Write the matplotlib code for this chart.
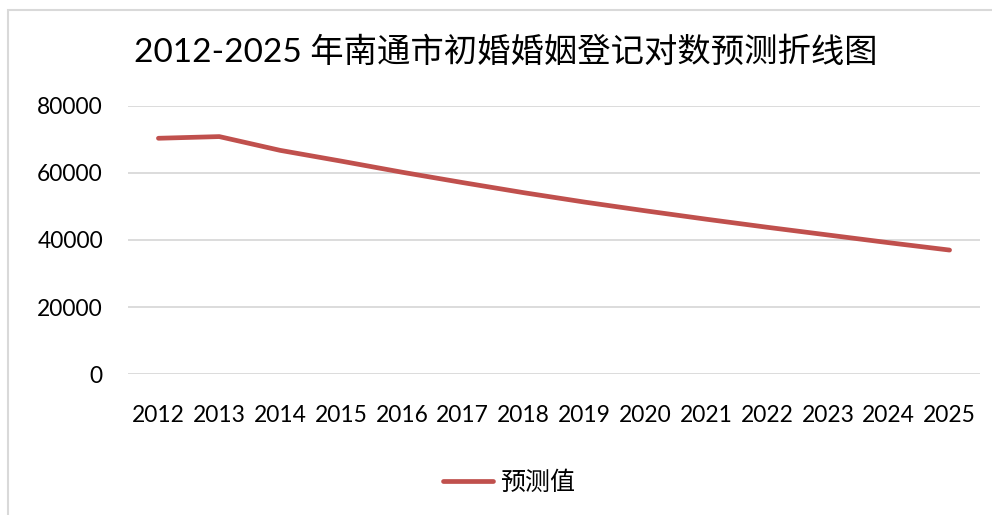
import matplotlib
matplotlib.use("Agg")
import matplotlib.pyplot as plt
from matplotlib.patches import Rectangle
from matplotlib import font_manager

years = ["2012", "2013", "2014", "2015", "2016", "2017", "2018",
         "2019", "2020", "2021", "2022", "2023", "2024", "2025"]
predicted = [70300, 70800, 66700, 63500, 60200, 57100, 54100,
             51300, 48700, 46200, 43800, 41500, 39200, 37000]
series_name = "预测值"
title = "2012-2025 年南通市初婚婚姻登记对数预测折线图"
yticks = [0, 20000, 40000, 60000, 80000]

W, H = 992, 515
fig = plt.figure(figsize=(W / 100, H / 100), dpi=100)
fig.patch.set_facecolor("white")

fonts = ["Lato", "Noto Sans CJK SC", "DejaVu Sans"]
plt.rcParams["font.family"] = fonts

installed = {f.name for f in font_manager.fontManager.ttflist}
if "Liberation Sans Narrow" in installed:
    title_fonts = ["Liberation Sans Narrow", "Noto Sans CJK SC", "DejaVu Sans"]
    title_size = 25
else:
    title_fonts = fonts
    title_size = 24

# chart border
fig.add_artist(Rectangle((8 / W, -0.1), 1.0, 1 - 10 / H + 0.1,
                         transform=fig.transFigure, fill=False,
                         edgecolor="#d9d9d9", linewidth=1.5))

ax = fig.add_axes([128 / W, 1 - 374.3 / H, (980 - 128) / W, (374.3 - 105.7) / H])
x = list(range(len(years)))
line, = ax.plot(x, predicted, color="#C0504D", linewidth=3.4,
                solid_capstyle="round", solid_joinstyle="round", label=series_name)

ax.set_xlim(-0.5, len(years) - 0.5)
ax.set_ylim(0, 80000)
ax.set_yticks(yticks)
ax.set_yticklabels([str(v) for v in yticks])
ax.set_xticks(x)
ax.set_xticklabels(years)
ax.grid(axis="y", color="#d9d9d9", linewidth=1.3)
ax.set_axisbelow(True)
for s in ax.spines.values():
    s.set_visible(False)
ax.tick_params(axis="both", length=0, labelsize=16.4, colors="black")
ax.tick_params(axis="x", pad=22)
ax.tick_params(axis="y", pad=18)

fig.text(506 / W, 1 - 52 / H, title, ha="center", va="center",
         fontsize=title_size, family=title_fonts, color="black")

fig.legend(handles=[line], loc="center", bbox_to_anchor=(509 / W, 1 - 483 / H),
           frameon=False, handlelength=2.0, handletextpad=0.25,
           prop={"family": ["Noto Sans CJK SC", "DejaVu Sans"], "size": 18})

fig.savefig("out.png", dpi=100, facecolor="white")
